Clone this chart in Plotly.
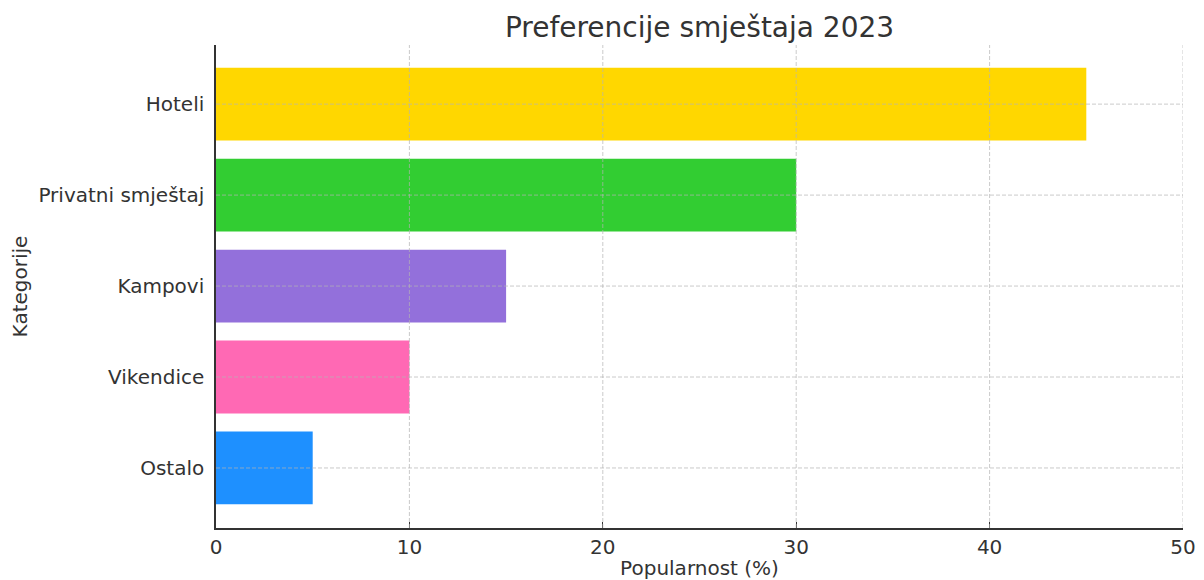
import plotly.graph_objects as go

categories = ["Hoteli", "Privatni smještaj", "Kampovi", "Vikendice", "Ostalo"]
values = [45, 30, 15, 10, 5]
colors = ["#FFD700", "#32CD32", "#9370DB", "#FF69B4", "#1E90FF"]
x_ticks = [0, 10, 20, 30, 40, 50]

fig = go.Figure(go.Bar(
    x=values, y=categories, orientation="h",
    marker=dict(color=colors, line=dict(width=0)),
    width=0.8,
))

grid_line = dict(color="rgba(180,180,180,0.7)", width=1, dash="4px,2px")
for t in x_ticks[1:]:
    fig.add_shape(type="line", xref="x", yref="paper", x0=t, x1=t, y0=0, y1=1,
                  line=grid_line, layer="above")
for c in categories:
    fig.add_shape(type="line", xref="paper", yref="y", x0=0, x1=1, y0=c, y1=c,
                  line=grid_line, layer="above")

font = "DejaVu Sans"
fig.update_layout(
    width=1204, height=580,
    margin=dict(l=216, r=21, t=45, b=52),
    plot_bgcolor="white", paper_bgcolor="white",
    font=dict(family=font, size=20, color="#333333"),
    title=dict(text="Preferencije smještaja 2023", x=(216 + 1183) / 2 / 1204, xanchor="center",
               y=1 - 27 / 580, yanchor="middle", font=dict(size=28, color="#333333")),
    showlegend=False,
)
fig.update_xaxes(
    range=[0, 50], tickvals=x_ticks, showline=True, linecolor="#333333", linewidth=1.5,
    ticks="inside", ticklen=6, tickcolor="#333333", automargin=False,
    showgrid=False, zeroline=False, mirror=False, layer="above traces",
    title=dict(text="Popularnost (%)", standoff=12, font=dict(size=20)),
    tickfont=dict(size=20),
)
fig.update_yaxes(
    categoryorder="array", categoryarray=categories[::-1],
    range=[-0.66, 4.65], automargin=False,
    showline=True, linecolor="#333333", linewidth=1.5,
    ticks="", showgrid=False, zeroline=False, layer="above traces",
    title=dict(text="Kategorije", standoff=5, font=dict(size=20)),
    tickfont=dict(size=20), ticklabelstandoff=6,
)
fig.write_html("out.html", config={"displayModeBar": False},
               post_script="document.body.style.margin='0';")
